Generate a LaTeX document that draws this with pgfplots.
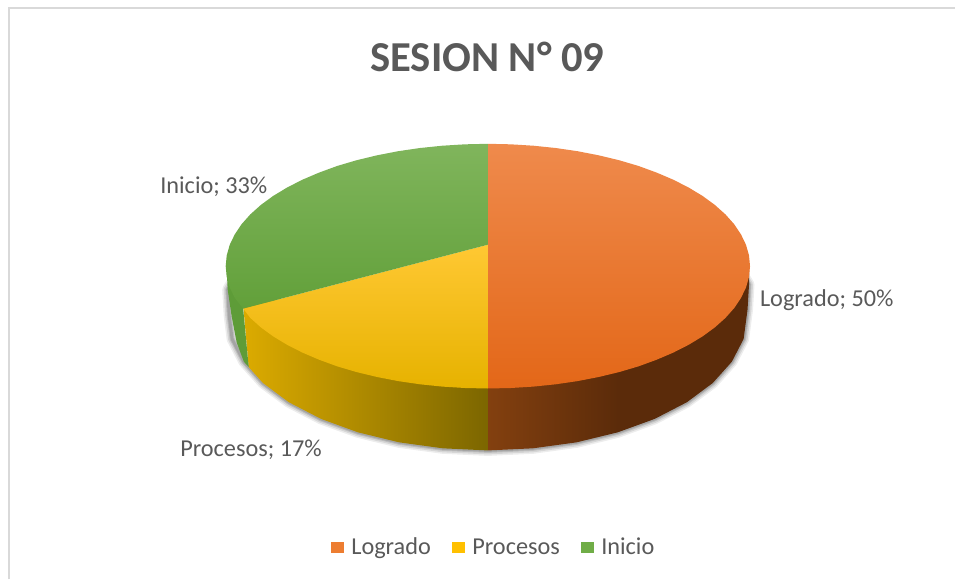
\documentclass[border=0pt]{standalone}
\usepackage{fontspec}
\setmainfont{Carlito}
\usepackage{pgfplots}
\usepackage{pgfplotstable}
\pgfplotsset{compat=1.18}

\definecolor{txt}{HTML}{595959}
\definecolor{frame}{HTML}{D9D9D9}
\definecolor{logrado}{HTML}{ED7D31}
\definecolor{procesos}{HTML}{FFC000}
\definecolor{inicio}{HTML}{70AD47}
\definecolor{logwallA}{HTML}{83400F}
\definecolor{logwallB}{HTML}{5B2B0A}
\definecolor{prowallA}{HTML}{DCAB00}
\definecolor{prowallB}{HTML}{7C6600}
\definecolor{iniwall}{HTML}{5E9C38}
\definecolor{logtopA}{HTML}{EF8A4C}
\definecolor{logtopB}{HTML}{EC7426}
\definecolor{logtopC}{HTML}{E36718}
\definecolor{protopA}{HTML}{FFC833}
\definecolor{protopC}{HTML}{E6B200}
\definecolor{initopA}{HTML}{80B55C}
\definecolor{initopB}{HTML}{6CAB40}
\definecolor{initopC}{HTML}{62A03A}

% outlines in picture pixels
% share of each slice: Logrado 50, Procesos 17, Inicio 33
\pgfplotstableread{
x y
245 260
228 290
229.5 316
232.4 339.4
244.2 362.2
263.3 383.5
289.3 402.8
321.4 419.4
358.5 432.9
399.6 442.9
443.4 448.9
488.5 451
533.6 448.9
577.4 442.9
618.5 432.9
655.6 419.4
687.7 402.8
713.7 383.5
732.8 362.2
744.6 339.4
748.5 310
750 285
735 260
}\rim

\begin{document}
\begin{tikzpicture}[font=\fontsize{24.3}{28}\selectfont]
\begin{axis}[
  scale only axis,
  width=956pt,
  height=580pt,
  xmin=0, xmax=956,
  ymin=0, ymax=580,
  y dir=reverse,
  hide axis,
  clip=false,
  legend columns=3,
  legend style={
    at={(axis cs:493.5,547.5)},
    anchor=center,
    draw=none,
    fill=none,
    text=txt,
    inner sep=0pt,
    /tikz/every even column/.append style={column sep=21.5pt},
    nodes={inner sep=0pt, anchor=base west},
  },
  legend image code/.code={
    \fill[#1] (0pt,1pt) rectangle (12.5pt,12.5pt);
    \path (20pt,0pt);
  },
]
% keeps the page at the full picture size
\addplot[draw=none, forget plot] coordinates {(0,0) (956,580)};

% chart frame, only top and left show
\addplot[frame, line width=2.5pt, forget plot] coordinates {(9,580) (9,8) (956,8)};

% soft shadow under the rim
\addplot[black!70, opacity=0.10, line width=11pt, line join=round, forget plot] table {\rim};
\addplot[black!70, opacity=0.14, line width=8pt, line join=round, forget plot] table {\rim};
\addplot[black!70, opacity=0.18, line width=5pt, line join=round, forget plot] table {\rim};
\addplot[black!70, opacity=0.22, line width=3pt, line join=round, forget plot] table {\rim};

% side walls
\addplot[draw=none, forget plot, left color=logwallA, right color=logwallB, middle color=logwallB] coordinates {
  (488.5,300) (750,270) (750,285) (748.5,310) (744.6,339.4) (732.8,362.2) (713.7,383.5)
  (687.7,402.8) (655.6,419.4) (618.5,432.9) (577.4,442.9) (533.6,448.9) (488.5,451)
} --cycle;
\addplot[draw=none, forget plot, left color=prowallA, right color=prowallB] coordinates {
  (243,300) (488.5,300) (488.5,451) (443.4,448.9) (399.6,442.9) (358.5,432.9) (321.4,419.4)
  (289.3,402.8) (263.3,383.5) (249,367.5)
} --cycle;
\addplot[draw=none, fill=iniwall, forget plot] coordinates {
  (227,270) (243,300) (243.5,309) (249,367.5) (244.2,362.2) (237,343) (232,317) (228,290)
} --cycle;

% top faces
\addplot[draw=none, forget plot, top color=logtopA, middle color=logtopB, bottom color=logtopC] coordinates {
  (488.5,245) (488.5,144) (511.4,144.5) (534.1,145.9) (556.4,148.2) (578.3,151.4) (599.4,155.5)
  (619.8,160.4) (639.1,166.1) (657.2,172.7) (674.1,179.9) (689.6,187.8) (703.5,196.2)
  (715.8,205.2) (726.4,214.7) (735.2,224.6) (742,234.8) (747,245.2) (750,255.8) (751,266.5)
  (750,277.2) (747,287.8) (742,298.2) (735.2,308.4) (726.4,318.3) (715.8,327.8) (703.5,336.8)
  (689.6,345.2) (674.1,353.1) (657.2,360.3) (639.1,366.9) (619.8,372.6) (599.4,377.5)
  (578.3,381.6) (556.4,384.8) (534.1,387.1) (511.4,388.5) (488.5,389)
} --cycle;
\addplot[draw=none, forget plot, top color=protopA, middle color=procesos, bottom color=protopC] coordinates {
  (488.5,245) (488.5,389) (465.6,388.5) (442.9,387.1) (420.6,384.8) (398.7,381.6) (377.6,377.5)
  (357.2,372.6) (337.9,366.9) (319.8,360.3) (302.9,353.1) (287.4,345.2) (273.5,336.8)
  (261.2,327.8) (250.6,318.3) (243.5,309)
} --cycle;
\addplot[draw=none, forget plot, top color=initopA, middle color=initopB, bottom color=initopC] coordinates {
  (488.5,245) (243.5,309) (235,298.2) (230,287.8) (227,277.2) (226,266.5) (227,255.8) (230,245.2)
  (235,234.8) (241.8,224.6) (250.6,214.7) (261.2,205.2) (273.5,196.2) (287.4,187.8) (302.9,179.9)
  (319.8,172.7) (337.9,166.1) (357.2,160.4) (377.6,155.5) (398.7,151.4) (420.6,148.2)
  (442.9,145.9) (465.6,144.5) (488.5,144)
} --cycle;

\addlegendimage{fill=logrado, draw=none}
\addlegendentry{Logrado}
\addlegendimage{fill=procesos, draw=none}
\addlegendentry{Procesos}
\addlegendimage{fill=inicio, draw=none}
\addlegendentry{Inicio}

\node[text=txt, font=\fontsize{42.7}{48}\selectfont\bfseries] at (axis cs:488,56.5) {SESION N° 09};
\node[text=txt, anchor=west] at (axis cs:757.5,301) {Logrado; 50\%};
\node[text=txt, anchor=west] at (axis cs:157,187) {Inicio; 33\%};
\node[text=txt, anchor=west] at (axis cs:177,450) {Procesos; 17\%};
\end{axis}
\end{tikzpicture}
\end{document}
